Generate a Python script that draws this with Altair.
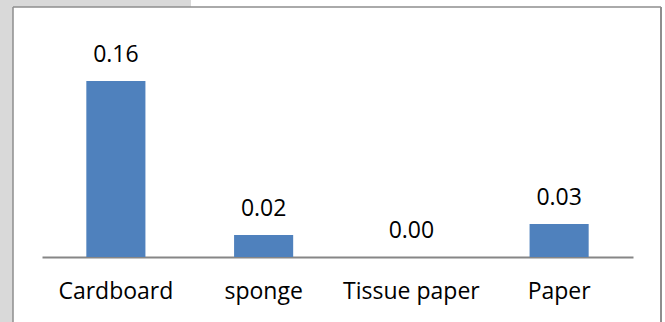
import altair as alt
import pandas as pd

# Data
categories = ["Cardboard", "sponge", "Tissue paper", "Paper"]
values = [0.16, 0.02, 0.00, 0.03]

df = pd.DataFrame({"material": categories, "value": values})
one = pd.DataFrame({"k": [0]})

FONT = "Open Sans"
BAR = "#4f81bd"
FRAME = "#8e8e8e"
SHADE = "#d9d9d9"

x_enc = alt.X(
    "material:N",
    sort=categories,
    scale=alt.Scale(range=[29, 620], paddingInner=0.6, paddingOuter=0.3),
    axis=alt.Axis(
        title=None,
        orient="bottom",
        offset=-65,
        domain=True,
        domainColor="#868686",
        domainWidth=2,
        ticks=False,
        labelAngle=0,
        labelFont=FONT,
        labelFontSize=23,
        labelColor="#000000",
        labelBaseline="alphabetic",
        labelPadding=41,
    ),
)
y_enc = alt.Y(
    "value:Q",
    scale=alt.Scale(domain=[0, 0.2], range=[250, 30]),
    axis=None,
)

bars = alt.Chart(df).mark_bar(color=BAR).encode(x=x_enc, y=y_enc)

labels = alt.Chart(df).mark_text(
    font=FONT, fontSize=23, color="#000000", baseline="alphabetic", dy=-19
).encode(x=x_enc, y=y_enc, text=alt.Text("value:Q", format=".2f"))

# Light grey page strips outside the chart frame
shade_left = alt.Chart(one).mark_rect(color=SHADE).encode(
    x=alt.value(-13), x2=alt.value(0), y=alt.value(-7), y2=alt.value(315)
)
shade_top = alt.Chart(one).mark_rect(color=SHADE).encode(
    x=alt.value(-13), x2=alt.value(178), y=alt.value(-7), y2=alt.value(0)
)

# Chart frame: left, top and right edges
frame_left = alt.Chart(one).mark_rule(color=FRAME, strokeWidth=1.5).encode(
    x=alt.value(0), y=alt.value(0), y2=alt.value(315)
)
frame_top = alt.Chart(one).mark_rule(color=FRAME, strokeWidth=1.5).encode(
    x=alt.value(0), x2=alt.value(648), y=alt.value(0)
)
frame_right = alt.Chart(one).mark_rule(color=FRAME, strokeWidth=2).encode(
    x=alt.value(648), y=alt.value(0), y2=alt.value(315)
)

chart = (
    alt.layer(shade_left, shade_top, frame_left, frame_top, frame_right, bars, labels)
    .properties(
        width=648,
        height=315,
        padding={"left": 13, "top": 7, "right": 4, "bottom": 0},
        autosize=alt.AutoSizeParams(type="none"),
        background="#ffffff",
    )
    .configure_view(stroke=None)
)

chart.save("out.html", embed_options={"renderer": "svg", "actions": False})
